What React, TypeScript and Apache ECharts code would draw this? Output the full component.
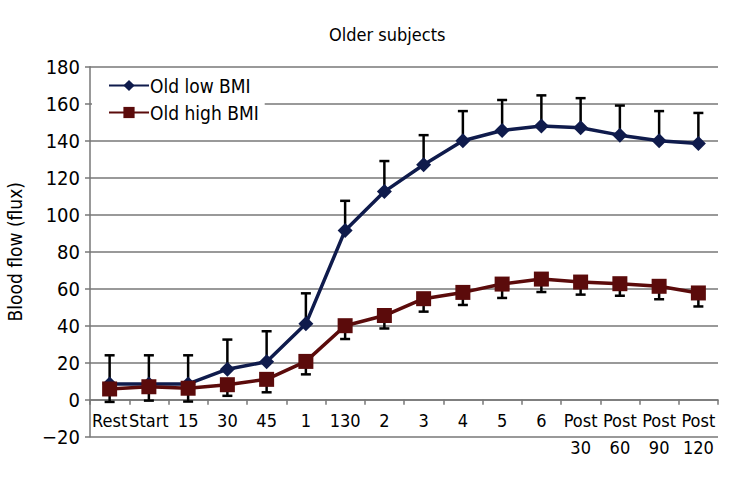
import React, { useEffect, useRef } from "react";
import * as echarts from "echarts";

const categories = ["Rest", "Start", "15", "30", "45", "1", "130", "2", "3", "4", "5", "6", "Post\n30", "Post\n60", "Post\n90", "Post\n120"];
const lowBMI = [8.5, 8.5, 8.5, 16.5, 20.5, 41, 91.5, 112.5, 127, 140, 145.5, 148, 147, 143, 140, 138.5];
const lowBMIErr = [15.5, 15.5, 15.5, 16, 16.5, 16.5, 16, 16.5, 16, 16, 16.5, 16.5, 16, 16, 16, 16.5];
const highBMI = [5.8, 7, 6.2, 8.1, 11, 20.7, 40, 45.5, 54.6, 58, 62.5, 65.2, 63.6, 62.7, 61.3, 57.7];
const highBMIErr = [7, 7.5, 7.2, 6, 7, 7, 7.2, 7, 7, 6.8, 7.5, 7, 6.8, 6.5, 7, 7.3];
const yMin = -20;
const yMax = 180;

const FONT = "'Liberation Sans Narrow', 'DejaVu Sans Condensed', 'Roboto Condensed', 'Liberation Sans', sans-serif";
const BLUE = "#0f1b4c";
const RED = "#5b0b0b";
const GRID_TOP = 66.7;
const GRID_BOTTOM = 43.3;
const GRID_H = 480 - GRID_TOP - GRID_BOTTOM;

function errorSeries(name: string, values: number[], errs: number[], dir: number) {
  const data = values.map((v, i) => [i, v, v + dir * errs[i]]);
  return {
    type: "custom",
    name: name + "_err",
    z: dir > 0 ? 2 : 4,
    data,
    encode: { x: 0, y: [1, 2] },
    renderItem: (params: any, api: any) => {
      const x = api.value(0);
      const p0 = api.coord([x, api.value(1)]);
      const p1 = api.coord([x, api.value(2)]);
      const cap = 5;
      return {
        type: "group",
        children: [
          { type: "line", shape: { x1: p0[0], y1: p0[1], x2: p1[0], y2: p1[1] }, style: { stroke: "#000", lineWidth: 2.5 } },
          { type: "line", shape: { x1: p1[0] - cap, y1: p1[1], x2: p1[0] + cap, y2: p1[1] }, style: { stroke: "#000", lineWidth: 2.5 } },
        ],
      };
    },
  };
}

export default function App() {
  const ref = useRef<HTMLDivElement>(null);
  useEffect(() => {
    if (!ref.current) return;
    const chart = echarts.init(ref.current, null, { renderer: "svg" });
    chart.setOption({
      animation: false,
      backgroundColor: "#fff",
      title: {
        text: "Older subjects",
        left: 324,
        top: 20,
        textStyle: { fontFamily: FONT, fontSize: 18, fontWeight: "normal", color: "#000" },
      },
      legend: {
        data: ["Old low BMI", "Old high BMI"],
        orient: "vertical",
        left: 92,
        top: 74,
        itemWidth: 40,
        itemHeight: 14,
        itemGap: 8,
        padding: [2, 6, 2, 16],
        backgroundColor: "#fff",
        textStyle: { fontFamily: FONT, fontSize: 19, color: "#000", padding: [0, 0, 0, -4] },
      },
      grid: { left: 90, right: 26, top: GRID_TOP, bottom: GRID_BOTTOM, outerBoundsMode: "none", containLabel: false },
      xAxis: {
        type: "category",
        data: categories,
        boundaryGap: true,
        position: "bottom",
        offset: -GRID_H * (0 - yMin) / (yMax - yMin),
        axisLine: { onZero: false, lineStyle: { color: "#777", width: 1.5 } },
        axisTick: { show: true, length: 5, lineStyle: { color: "#777", width: 1.5 } },
        axisLabel: {
          interval: 0,
          margin: 7,
          fontFamily: FONT,
          fontSize: 18,
          lineHeight: 27,
          color: "#000",
        },
      },
      yAxis: {
        type: "value",
        min: yMin,
        max: yMax,
        interval: 20,
        name: "Blood flow (flux)",
        nameLocation: "middle",
        nameGap: 66,
        nameTextStyle: { fontFamily: FONT, fontSize: 19, color: "#000" },
        axisLine: { show: true, lineStyle: { color: "#777", width: 1.5 } },
        axisTick: { show: true, length: 5, lineStyle: { color: "#777", width: 1.5 } },
        axisLabel: {
          margin: 10,
          fontFamily: FONT,
          fontSize: 20,
          color: "#000",
          formatter: (v: number) => (v < 0 ? "\u2212" + Math.abs(v) : String(v)),
        },
        splitLine: { show: true, lineStyle: { color: "#777", width: 1.5 } },
      },
      series: [
        {
          type: "line",
          name: "Old low BMI",
          data: lowBMI,
          symbol: "diamond",
          symbolSize: 15,
          z: 3,
          lineStyle: { color: BLUE, width: 3.5 },
          itemStyle: { color: BLUE },
        },
        errorSeries("Old low BMI", lowBMI, lowBMIErr, 1),
        {
          type: "line",
          name: "Old high BMI",
          data: highBMI,
          symbol: "rect",
          symbolSize: 15,
          z: 5,
          lineStyle: { color: RED, width: 3.5 },
          itemStyle: { color: RED },
        },
        errorSeries("Old high BMI", highBMI, highBMIErr, -1),
      ],
    });
    return () => chart.dispose();
  }, []);
  return <div ref={ref} style={{ width: 744, height: 480, position: "absolute", left: 0, top: 0 }} />;
}
